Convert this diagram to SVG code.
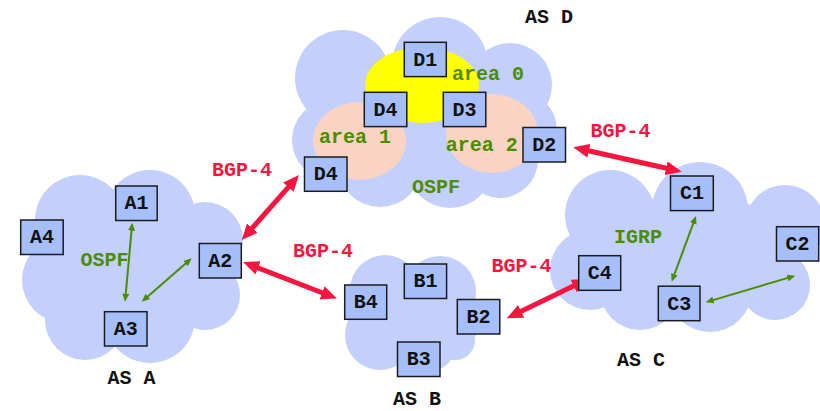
<svg xmlns="http://www.w3.org/2000/svg" width="820" height="411" viewBox="0 0 820 411">
<style>
  .cloud { fill: #c3cffc; }
  .box { fill: #a6bffa; stroke: #1c1c1c; stroke-width: 1.5; }
  .t { font-family: "Liberation Mono", "Courier New", monospace; font-weight: bold; font-size: 20px; }
  .lbl { fill: #111; text-anchor: middle; }
  .as { fill: #111; }
  .grn { fill: #4a8d00; }
  .red { fill: #f5163f; }
  .bgp { stroke: #f5163f; stroke-width: 5; fill: none; marker-start: url(#rh); marker-end: url(#rh); }
  .igp { stroke: #4a8d00; stroke-width: 2; fill: none; marker-start: url(#gh); marker-end: url(#gh); }
</style>
<defs>
  <marker id="rh" markerUnits="userSpaceOnUse" viewBox="0 0 16 14" markerWidth="16" markerHeight="14" refX="5" refY="7" orient="auto-start-reverse">
    <path d="M0,0 L16,7 L0,14 z" fill="#f5163f"/>
  </marker>
  <marker id="gh" markerUnits="userSpaceOnUse" viewBox="0 0 8 7" markerWidth="8" markerHeight="7" refX="3" refY="3.5" orient="auto-start-reverse">
    <path d="M0,0 L8,3.5 L0,7 z" fill="#4a8d00"/>
  </marker>
</defs>

<g id="clouds" class="cloud">
  <g id="cloud-D">
    <circle cx="343" cy="78" r="48"/>
    <circle cx="440" cy="65" r="48"/>
    <circle cx="510" cy="85" r="42"/>
    <circle cx="518" cy="130" r="39"/>
    <circle cx="332" cy="140" r="40"/>
    <circle cx="380" cy="165" r="42"/>
    <circle cx="450" cy="165" r="43"/>
    <circle cx="500" cy="160" r="38"/>
    <ellipse cx="425" cy="120" rx="100" ry="60"/>
  </g>
  <g id="cloud-A">
    <circle cx="80" cy="220" r="45"/>
    <circle cx="150" cy="215" r="45"/>
    <circle cx="205" cy="240" r="38"/>
    <circle cx="65" cy="280" r="43"/>
    <circle cx="85" cy="320" r="40"/>
    <circle cx="150" cy="318" r="45"/>
    <circle cx="205" cy="295" r="35"/>
    <ellipse cx="130" cy="270" rx="90" ry="70"/>
  </g>
  <g id="cloud-B">
    <circle cx="385" cy="290" r="35"/>
    <circle cx="440" cy="292" r="36"/>
    <circle cx="460" cy="320" r="22"/>
    <circle cx="380" cy="335" r="35"/>
    <circle cx="425" cy="340" r="33"/>
    <circle cx="455" cy="340" r="20"/>
    <ellipse cx="415" cy="315" rx="50" ry="40"/>
  </g>
  <g id="cloud-C">
    <circle cx="610" cy="215" r="45"/>
    <circle cx="700" cy="210" r="48"/>
    <circle cx="785" cy="225" r="40"/>
    <circle cx="590" cy="270" r="40"/>
    <circle cx="640" cy="290" r="40"/>
    <circle cx="710" cy="290" r="42"/>
    <circle cx="775" cy="285" r="35"/>
    <ellipse cx="690" cy="255" rx="110" ry="60"/>
  </g>
</g>

<g id="areas">
  <ellipse id="area0" cx="422" cy="85" rx="57" ry="38" fill="#ffff00"/>
  <ellipse id="area1" cx="359.5" cy="141" rx="46.5" ry="39" fill="#fad3c2"/>
  <ellipse id="area2" cx="492" cy="133.5" rx="46" ry="39.5" fill="#fad3c2"/>
</g>

<g id="connectors">
  <line class="bgp" x1="249" y1="231.8" x2="291.7" y2="183.3"/>
  <line class="bgp" x1="253.3" y1="266" x2="326.7" y2="294.5"/>
  <line class="bgp" x1="584" y1="149.7" x2="671" y2="169.3"/>
  <line class="bgp" x1="516.6" y1="313.5" x2="578.1" y2="283.8"/>
  <line class="igp" x1="131.8" y1="227.7" x2="125.5" y2="296.7"/>
  <line class="igp" x1="145.5" y1="298.4" x2="187.9" y2="261.6"/>
  <line class="igp" x1="694.3" y1="220.7" x2="673.4" y2="277"/>
  <line class="igp" x1="710.5" y1="300.9" x2="790.5" y2="277.1"/>
</g>

<g id="D1"><rect class="box" x="404.3" y="42.3" width="42" height="34.3"/><text class="t lbl" x="425.3" y="65.5">D1</text></g>
<g id="D4-area"><rect class="box" x="364.3" y="92.3" width="42.5" height="34.3"/><text class="t lbl" x="385.5" y="115.5">D4</text></g>
<g id="D3"><rect class="box" x="443.3" y="92.3" width="42.5" height="34.3"/><text class="t lbl" x="464.5" y="115.5">D3</text></g>
<g id="D2"><rect class="box" x="523" y="127.5" width="42.5" height="34.5"/><text class="t lbl" x="544.2" y="150.8">D2</text></g>
<g id="D4"><rect class="box" x="304.5" y="157" width="42.5" height="34.3"/><text class="t lbl" x="325.7" y="180.2">D4</text></g>
<g id="A1"><rect class="box" x="115.7" y="186" width="41.5" height="34.5"/><text class="t lbl" x="136.5" y="209.3">A1</text></g>
<g id="A4"><rect class="box" x="20.7" y="220" width="42.5" height="34.5"/><text class="t lbl" x="42" y="243.3">A4</text></g>
<g id="A2"><rect class="box" x="199.3" y="243.5" width="42" height="34.5"/><text class="t lbl" x="220.3" y="266.8">A2</text></g>
<g id="A3"><rect class="box" x="104.5" y="311.7" width="42.5" height="34.3"/><text class="t lbl" x="125.7" y="335">A3</text></g>
<g id="B1"><rect class="box" x="404.3" y="264" width="42.3" height="34.5"/><text class="t lbl" x="425.5" y="287.3">B1</text></g>
<g id="B4"><rect class="box" x="344.7" y="285" width="42" height="34.3"/><text class="t lbl" x="365.7" y="308.2">B4</text></g>
<g id="B2"><rect class="box" x="457.3" y="299.5" width="42.5" height="34.5"/><text class="t lbl" x="478.5" y="322.8">B2</text></g>
<g id="B3"><rect class="box" x="397.5" y="342" width="42.5" height="34.5"/><text class="t lbl" x="418.7" y="365.3">B3</text></g>
<g id="C1"><rect class="box" x="670.5" y="176" width="42.8" height="34.6"/><text class="t lbl" x="691.9" y="199.3">C1</text></g>
<g id="C2"><rect class="box" x="776.5" y="226.7" width="42.2" height="34.3"/><text class="t lbl" x="797.6" y="249.9">C2</text></g>
<g id="C4"><rect class="box" x="578.7" y="255.7" width="42" height="34.6"/><text class="t lbl" x="599.7" y="279">C4</text></g>
<g id="C3"><rect class="box" x="658.3" y="286.2" width="41.7" height="34.5"/><text class="t lbl" x="679.2" y="309.5">C3</text></g>

<g id="labels">
  <text class="t as" x="525" y="23">AS D</text>
  <text class="t as" x="107.5" y="384">AS A</text>
  <text class="t as" x="393" y="405">AS B</text>
  <text class="t as" x="617" y="366">AS C</text>
  <text class="t grn" x="452" y="80">area 0</text>
  <text class="t grn" x="319" y="143.3">area 1</text>
  <text class="t grn" x="445.7" y="150.7">area 2</text>
  <text class="t grn" x="412" y="193.3">OSPF</text>
  <text class="t grn" x="80.5" y="265.5">OSPF</text>
  <text class="t grn" x="614" y="242.5">IGRP</text>
  <text class="t red" x="212" y="176">BGP-4</text>
  <text class="t red" x="293" y="257.3">BGP-4</text>
  <text class="t red" x="590.5" y="137.3">BGP-4</text>
  <text class="t red" x="491.5" y="272.3">BGP-4</text>
</g>
</svg>
